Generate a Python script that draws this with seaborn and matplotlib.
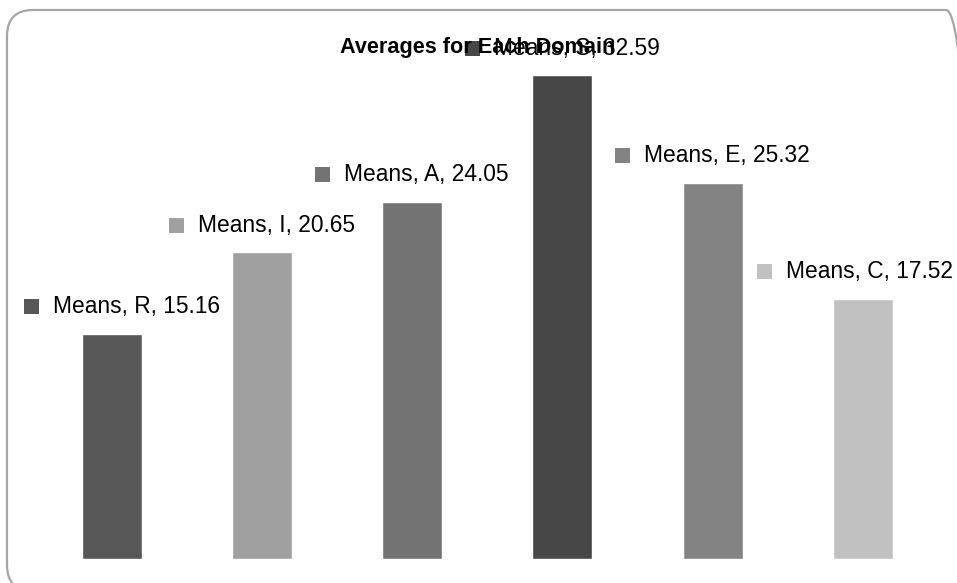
import matplotlib
matplotlib.use("Agg")
import matplotlib.pyplot as plt
from matplotlib.patches import FancyBboxPatch, Rectangle
import seaborn as sns

# Domain means
domains = ["R", "I", "A", "S", "E", "C"]
means = [15.16, 20.65, 24.05, 32.59, 25.32, 17.52]
bar_colors = ["#575757", "#a0a0a0", "#737373", "#474747", "#838383", "#c1c1c1"]
series_name = "Means"
title = "Averages for Each Domain"

sns.set_theme(style="white")
plt.rcParams["font.family"] = ["Liberation Sans", "DejaVu Sans"]

W, H, DPI = 957, 583, 100
fig = plt.figure(figsize=(W / DPI, H / DPI), dpi=DPI)

# plot area in pixels
left_px, right_px, base_px = 36.5, 938.0, 559.0
ymax = 36.0
px_per_unit = 14.85
ax = fig.add_axes([left_px / W, (H - base_px) / H,
                   (right_px - left_px) / W, ymax * px_per_unit / H])

sns.barplot(x=domains, y=means, hue=domains, palette=bar_colors,
            width=0.4, legend=False, saturation=1, ax=ax)
ax.set_xlim(-0.5, len(domains) - 0.5)
ax.set_ylim(0, ymax)
ax.set_axis_off()

# rounded chart-area border, running off the right and bottom edges
border = FancyBboxPatch((7, -8), 965, 583 - 10 + 8, boxstyle="round,pad=0,rounding_size=26",
                        transform=None, facecolor="none", edgecolor="#a6a6a6",
                        linewidth=1.6, clip_on=False)
fig.patches.append(border)

fig.text(478 / W, 1 - 47 / H, title, ha="center", va="center",
         fontsize=15.6, fontweight="bold", color="#000000")

# data labels: legend-key square followed by "series, category, value"
fig.canvas.draw()
renderer = fig.canvas.get_renderer()
sq, gap, lift = 15, 14, 27
for i, (d, v, c) in enumerate(zip(domains, means, bar_colors)):
    cx, top = ax.transData.transform((i, v))
    cy = top + lift
    txt = fig.text(0, 0, f"{series_name}, {d}, {v:.2f}", ha="left", va="center",
                   fontsize=16.4, color="#000000", transform=None)
    tw = txt.get_window_extent(renderer).width
    total = sq + gap + tw
    x0 = cx - total / 2
    x0 = min(max(x0, 24), W - 4 - total)
    txt.set_position((x0 + sq + gap, cy))
    fig.patches.append(Rectangle((x0, cy - sq / 2), sq, sq, transform=None,
                                 facecolor=c, edgecolor="none"))

fig.savefig("out.png", dpi=DPI, facecolor="white")
